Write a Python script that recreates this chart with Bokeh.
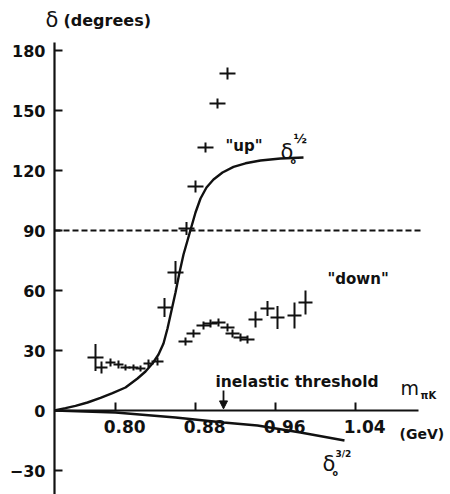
from bokeh.plotting import figure
from bokeh.models import (LinearAxis, FixedTicker, Range1d, Label, Arrow,
                          NormalHead, ColumnDataSource)
from bokeh.embed import file_html
from bokeh.resources import INLINE

# ---------------- data ----------------
# shared low-mass points (below the split)
low_mass = [0.780, 0.786, 0.795, 0.803, 0.810, 0.818, 0.825, 0.833, 0.842]
low_delta = [26.5, 21.5, 24.0, 23.0, 21.5, 21.5, 21.0, 23.5, 24.5]
low_merr = [0.008, 0.006, 0.005, 0.005, 0.005, 0.005, 0.005, 0.005, 0.006]
low_derr = [6.7, 3.0, 2.0, 2.0, 1.5, 1.5, 1.5, 2.0, 2.0]

# "up" solution
up_mass = [0.849, 0.860, 0.871, 0.880, 0.890, 0.902, 0.912]
up_delta = [51.5, 69.0, 91.0, 112.0, 131.5, 153.5, 168.5]
up_merr = [0.007, 0.008, 0.008, 0.008, 0.008, 0.008, 0.008]
up_derr = [4.8, 5.8, 3.3, 3.0, 2.5, 2.5, 3.0]

# "down" solution
down_mass = [0.870, 0.878, 0.888, 0.895, 0.903, 0.912, 0.917, 0.925, 0.932,
             0.940, 0.952, 0.962, 0.979, 0.990]
down_delta = [34.5, 38.5, 42.5, 43.5, 44.0, 41.5, 38.5, 36.5, 35.5,
              45.5, 51.0, 46.5, 47.5, 54.0]
down_merr = [0.007] * 14
down_derr = [2.0, 2.0, 2.0, 2.0, 2.0, 2.0, 2.0, 2.0, 2.0,
             4.0, 3.8, 5.8, 6.5, 6.0]

# delta_0^{1/2} curve
c12_mass = [0.739, 0.750, 0.760, 0.772, 0.785, 0.797, 0.810, 0.822, 0.830,
            0.837, 0.843, 0.848, 0.852, 0.856, 0.860, 0.864, 0.868, 0.872,
            0.876, 0.880, 0.885, 0.891, 0.898, 0.907, 0.918, 0.930, 0.945,
            0.965, 0.988]
c12_delta = [0.0, 1.2, 2.3, 4.0, 6.3, 8.7, 11.5, 16.0, 19.5,
             23.5, 28.0, 33.5, 41.0, 50.0, 59.0, 69.0, 78.0, 85.0,
             92.0, 99.0, 106.0, 111.5, 115.5, 119.0, 121.8, 123.6, 125.0,
             126.0, 126.5]

# delta_0^{3/2} curve
c32_mass = [0.739, 0.800, 0.860, 0.908, 0.942, 0.985, 1.029]
c32_delta = [0.0, -1.0, -3.5, -6.0, -7.5, -11.0, -15.0]

x_ticks = [0.80, 0.88, 0.96, 1.04]
x_tick_labels = ["0.80", "0.88", "0.96", "1.04"]
y_ticks = [-30, 0, 30, 60, 90, 120, 150, 180]

origin_mass = 0.739
axis_end_mass = 1.103
threshold_mass = 0.908
half_pi_delta = 90

FONT = "DejaVu Sans"
INK = "#111111"

p = figure(width=450, height=494, output_backend="svg", toolbar_location=None,
           x_range=Range1d(0.685, 1.135), y_range=Range1d(-42, 205),
           x_axis_type=None, y_axis_type=None, min_border=0,
           outline_line_color=None, background_fill_color="white",
           border_fill_color="white")
p.grid.visible = False

# axes crossing at (origin_mass, 0)
xaxis = LinearAxis(fixed_location=0, bounds=(origin_mass, axis_end_mass),
                   ticker=FixedTicker(ticks=x_ticks))
# printed x labels sit a little right of their ticks: a leading
# figure space + punctuation space nudges them over
xaxis.major_label_overrides = {t: "\u2007\u2008" + s
                               for t, s in zip(x_ticks, x_tick_labels)}
yaxis = LinearAxis(fixed_location=origin_mass, bounds=(-42, 184),
                   ticker=FixedTicker(ticks=y_ticks))
for ax in (xaxis, yaxis):
    ax.axis_line_color = INK
    ax.axis_line_width = 2.2
    ax.major_tick_line_color = INK
    ax.major_tick_line_width = 2
    ax.major_tick_in = 8
    ax.major_tick_out = 0
    ax.minor_tick_line_color = None
    ax.major_label_text_font = FONT
    ax.major_label_text_font_style = "bold"
    ax.major_label_text_color = INK
yaxis.major_label_text_font_size = "16px"
yaxis.major_label_standoff = 9
xaxis.major_label_text_font_size = "17px"
xaxis.major_label_standoff = 6
p.add_layout(xaxis, "below")
p.add_layout(yaxis, "left")

# dashed 90 degree line
p.line([origin_mass, axis_end_mass + 0.002], [half_pi_delta, half_pi_delta],
       line_dash="6 3", line_width=1.8, line_color=INK)

# curves
p.line(c12_mass, c12_delta, line_width=2.4, line_color=INK)
p.line(c32_mass, c32_delta, line_width=2.4, line_color=INK)


def crosses(m, d, me, de):
    src = ColumnDataSource(dict(
        x0=[a - b for a, b in zip(m, me)], x1=[a + b for a, b in zip(m, me)],
        y=d, x=m,
        y0=[a - b for a, b in zip(d, de)], y1=[a + b for a, b in zip(d, de)]))
    p.segment(x0="x0", y0="y", x1="x1", y1="y", source=src,
              line_width=2, line_color=INK)
    p.segment(x0="x", y0="y0", x1="x", y1="y1", source=src,
              line_width=2, line_color=INK)


crosses(low_mass, low_delta, low_merr, low_derr)
crosses(up_mass, up_delta, up_merr, up_derr)
crosses(down_mass, down_delta, down_merr, down_derr)

# inelastic threshold arrow
p.add_layout(Arrow(x_start=threshold_mass, y_start=10, x_end=threshold_mass,
                   y_end=0.8, line_width=1.8, line_color=INK,
                   end=NormalHead(size=8, fill_color=INK, line_color=INK)))


def lab(x, y, t, size, bold=True, align="left", baseline="middle"):
    p.add_layout(Label(x=x, y=y, text=t, text_font=FONT,
                       text_font_size=f"{size}px",
                       text_font_style="bold" if bold else "normal",
                       text_color=INK, text_align=align,
                       text_baseline=baseline))


lab(0.730, 195.5, "δ", 21, bold=False)
lab(0.748, 195, "(degrees)", 16)
lab(0.910, 132.5, "\"up\"", 15)
lab(0.965, 129.5, "δ", 21, bold=False)
lab(0.978, 136, "½", 13)
lab(0.975, 124.5, "o", 8)
lab(1.012, 66, "\"down\"", 15)
lab(0.900, 14.5, "inelastic threshold", 15.5)
lab(1.085, 6, "m", 19, bold=False, baseline="bottom")
lab(1.105, 7.5, "πK", 10)
lab(1.084, -11.5, "(GeV)", 14)
lab(1.007, -26.5, "δ", 21, bold=False)
lab(1.020, -21.5, "3/2", 9)
lab(1.017, -31.5, "o", 8)

open("out.html", "w").write(file_html(p, INLINE))
